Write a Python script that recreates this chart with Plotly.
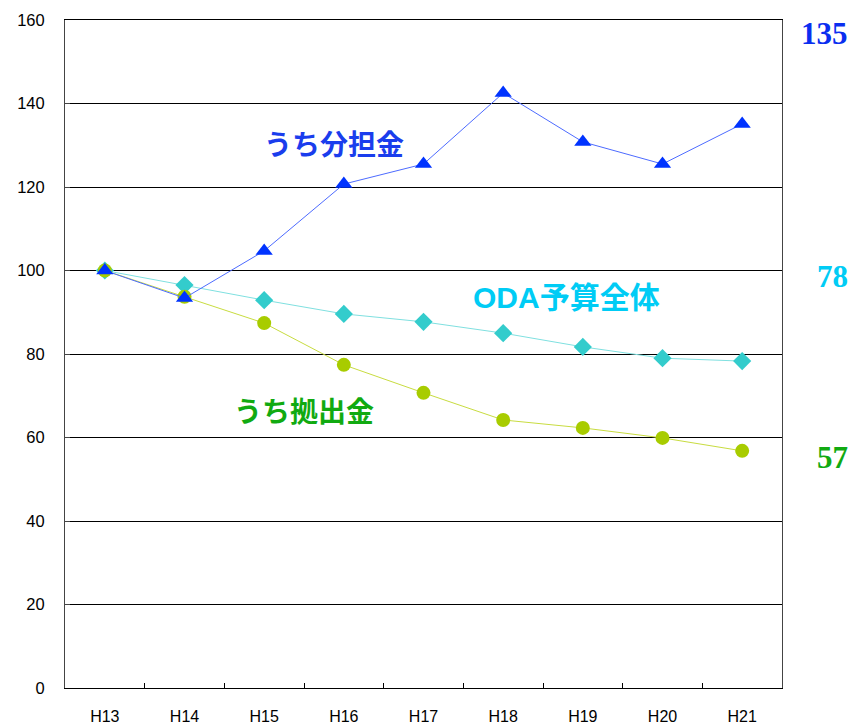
import plotly.graph_objects as go

years = ["H13", "H14", "H15", "H16", "H17", "H18", "H19", "H20", "H21"]
oda_total = [100, 96.5, 92.9, 89.6, 87.7, 85.0, 81.7, 79.0, 78.3]
kyoshutsu = [100, 93.7, 87.4, 77.4, 70.7, 64.2, 62.3, 59.9, 56.8]
buntan = [100, 93.4, 104.7, 120.7, 125.5, 142.5, 130.8, 125.5, 135.1]

fig = go.Figure()
fig.add_trace(go.Scatter(x=years, y=oda_total, mode="lines+markers", name="ODA予算全体",
                         line=dict(color="#7fe0e0", width=1),
                         marker=dict(symbol="diamond", size=14, color="#33cccc")))
fig.add_trace(go.Scatter(x=years, y=kyoshutsu, mode="lines+markers", name="うち拠出金",
                         line=dict(color="#c8dc40", width=1),
                         marker=dict(symbol="circle", size=14, color="#a8cc00")))
fig.add_trace(go.Scatter(x=years, y=buntan, mode="lines+markers", name="うち分担金",
                         line=dict(color="#4d6bff", width=1),
                         marker=dict(symbol="triangle-up", size=15, color="#0033ff")))

W, H = 852, 724
L, R, T, B = 65, 70, 20, 36
pw, ph = W - L - R, H - T - B
def px(x):
    return (x - L) / pw
def py(y):
    return (H - B - y) / ph

label_pos = [(334, 145, "うち分担金", "#1a3ded", 28),
             (566, 297, "ODA予算全体", "#00ccf5", 30),
             (304, 412, "うち拠出金", "#11aa11", 28)]
annotations = []
for x, y, t, c, s in label_pos:
    annotations.append(dict(xref="paper", yref="paper", x=px(x), y=py(y), text=t, showarrow=False,
                            xanchor="center", yanchor="middle",
                            font=dict(family="Liberation Sans, Noto Sans CJK JP", size=s, color=c, weight="bold")))
num_pos = [(824, 33, "135", "#0a2ef0"), (832, 276, "78", "#00ccf5"), (832, 457, "57", "#11aa11")]
for x, y, t, c in num_pos:
    annotations.append(dict(xref="paper", yref="paper", x=px(x), y=py(y), text=t, showarrow=False,
                            xanchor="center", yanchor="middle",
                            font=dict(family="Liberation Serif", size=31, color=c, weight="bold")))

fig.update_layout(
    width=W, height=H,
    margin=dict(l=L, r=R, t=T, b=B, autoexpand=False),
    paper_bgcolor="white", plot_bgcolor="white",
    showlegend=False,
    annotations=annotations,
    font=dict(family="Liberation Sans", size=16, color="black"),
)
fig.update_xaxes(type="category", range=[-0.5, 8.5], tickson="boundaries", ticks="inside", ticklen=5,
                 tickcolor="black", showline=True, linecolor="black", linewidth=1, mirror=True,
                 showgrid=False, ticklabelstandoff=14, tickfont=dict(size=16), automargin=False)
fig.update_yaxes(range=[0, 160], dtick=20, showgrid=True, gridcolor="black", gridwidth=1,
                 zeroline=True, zerolinecolor="black", zerolinewidth=1,
                 showline=True, linecolor="#444", linewidth=1, mirror=True,
                 ticks="inside", ticklen=5, tickcolor="#444", ticklabelstandoff=16,
                 tickfont=dict(size=16.5), automargin=False)

fig.write_html("out.html", config={"displayModeBar": False},
               post_script="document.body.style.margin='0';document.body.style.overflow='hidden';")
